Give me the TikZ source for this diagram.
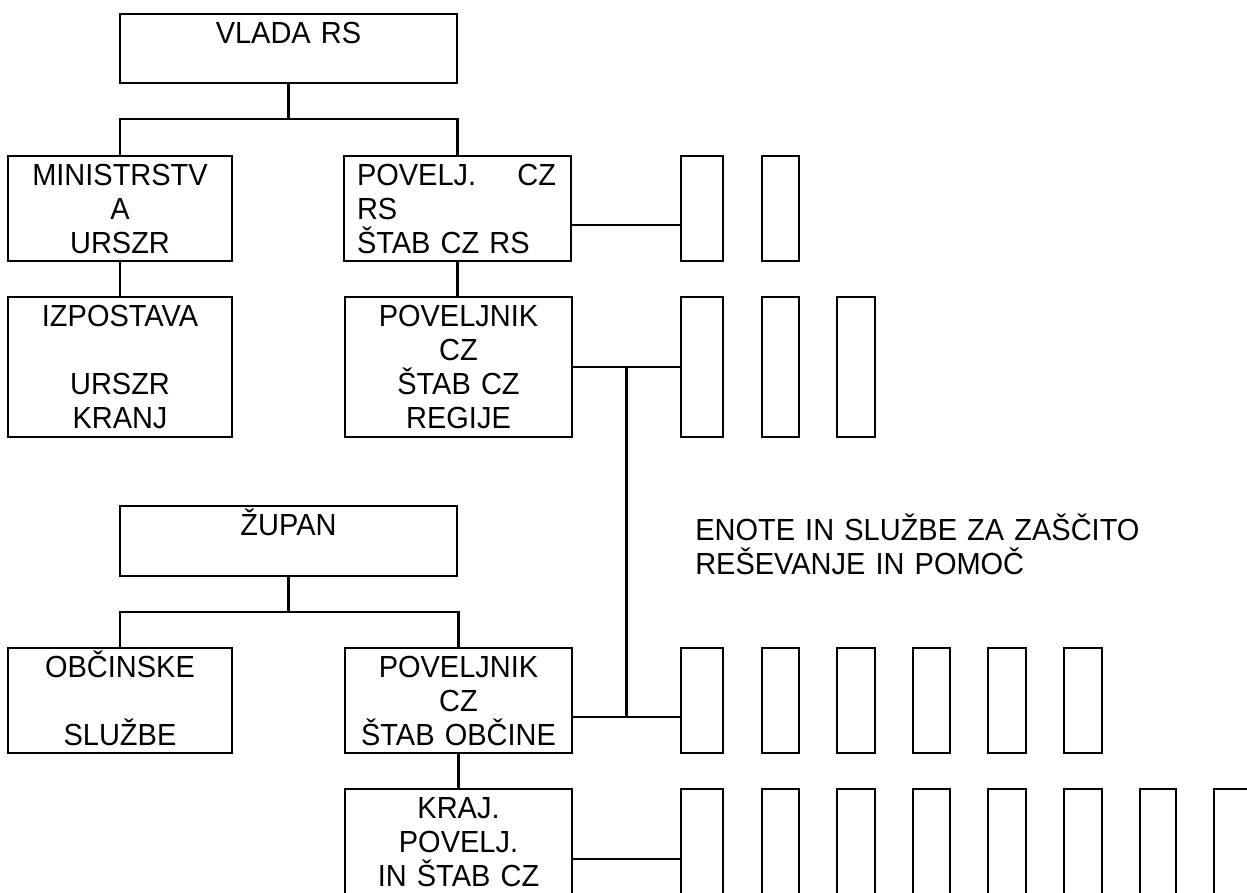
\documentclass[tikz,border=0pt]{standalone}
\usepackage{fontspec}
\setmainfont{Liberation Sans}
\newfontfamily\chartfont[FakeStretch=0.95]{Liberation Sans}
\usetikzlibrary{calc}
\setlength{\parindent}{0pt}
\newcommand{\boxfont}{\chartfont\fontsize{30.5}{34}\selectfont}
\newcommand{\capstrut}{\rule{0pt}{30pt}}

\begin{document}
\begin{tikzpicture}[x=1pt,y=-1pt,line width=2.5pt,
	box/.style={draw,inner sep=0pt,outer sep=0pt,anchor=north west},
	boxtext/.style={anchor=north,inner sep=0pt,text width=215pt,align=center,font=\boxfont,execute at begin node=\capstrut}
	]
	\useasboundingbox (0,0) rectangle (1247,893);
	\clip (0,0) rectangle (1247,893);
	\node[box,minimum width=337pt,minimum height=69pt] (vlada) at (120,14) {};
	\node[box,minimum width=224pt,minimum height=105pt] (ministr) at (8,156) {};
	\node[box,minimum width=227pt,minimum height=105pt] (povelj) at (344,156) {};
	\node[box,minimum width=224pt,minimum height=140pt] (izpost) at (8,297) {};
	\node[box,minimum width=227pt,minimum height=140pt] (regija) at (345,297) {};
	\node[box,minimum width=337pt,minimum height=70pt] (zupan) at (120,506) {};
	\node[box,minimum width=224pt,minimum height=105pt] (obcinske) at (8,648) {};
	\node[box,minimum width=227pt,minimum height=105pt] (obcina) at (345,648) {};
	\node[box,minimum width=227pt,minimum height=140pt] (kraj) at (345,789) {};
	\foreach \row/\y/\h/\cnt in {1/156/105/2,2/297/140/3,3/648/105/6,4/789/140/8}
		\foreach \x/\w [count=\col] in {681/42,762/37,837/38,913/37,988/38,1064/38,1140/36,1214/37}
			{\ifnum\col>\cnt\relax\else
				\node[box,minimum width=\w pt,minimum height=\h pt] (unit-\row-\col) at (\x,\y) {};
			\fi}
	\node[boxtext] (vlada-text) at ([yshift=1.5pt]vlada.north) {VLADA RS};
	\node[boxtext] (ministr-text) at ([yshift=1.5pt]ministr.north) {MINISTRSTV\\A\\URSZR};
	\node[boxtext,text width=199pt,align=left] (povelj-text) at ([xshift=-1pt,yshift=1.5pt]povelj.north) {POVELJ.\hfill CZ\\RS\\ŠTAB CZ RS};
	\node[boxtext] (izpost-text) at ([yshift=1.5pt]izpost.north) {IZPOSTAVA\\\mbox{}\\URSZR\\KRANJ};
	\node[boxtext] (regija-text) at ([yshift=1.5pt]regija.north) {POVELJNIK\\CZ\\ŠTAB CZ\\REGIJE};
	\node[boxtext] (zupan-text) at ([yshift=1.5pt]zupan.north) {ŽUPAN};
	\node[boxtext] (obcinske-text) at ([yshift=1.5pt]obcinske.north) {OBČINSKE\\\mbox{}\\SLUŽBE};
	\node[boxtext] (obcina-text) at ([yshift=1.5pt]obcina.north) {POVELJNIK\\CZ\\ŠTAB OBČINE};
	\node[boxtext] (kraj-text) at ([yshift=1.5pt]kraj.north) {KRAJ.\\POVELJ.\\IN ŠTAB CZ};
	\node[boxtext,anchor=north west,text width=500pt,align=left] (units-text) at (694,509) {ENOTE IN SLUŽBE ZA ZAŠČITO\\REŠEVANJE IN POMOČ};
	\draw (vlada.south) -- ++(0,36) coordinate (top-fork) -| (ministr.north);
	\draw (top-fork) -| (povelj.north);
	\draw (ministr.south) -- (izpost.north);
	\draw (povelj.south) -- (povelj.south |- regija.north);
	\draw ([yshift=-16.5pt]povelj.east) -- ([yshift=-16.5pt]unit-1-1.west);
	\draw (regija.east) -- (unit-2-1.west);
	\coordinate (split) at ($(regija.east)!0.5!(unit-2-1.west)$);
	\draw (zupan.south) -- ++(0,36) coordinate (low-fork) -| (obcinske.north);
	\draw (low-fork) -| (obcina.north);
	\draw ([yshift=-16.5pt]obcina.east) coordinate (obcina-line) -- ([yshift=-16.5pt]unit-3-1.west);
	\draw (split) -- (split |- obcina-line);
	\draw (obcina.south) -- (kraj.north);
	\draw (kraj.east) -- (unit-4-1.west);
\end{tikzpicture}
\end{document}
